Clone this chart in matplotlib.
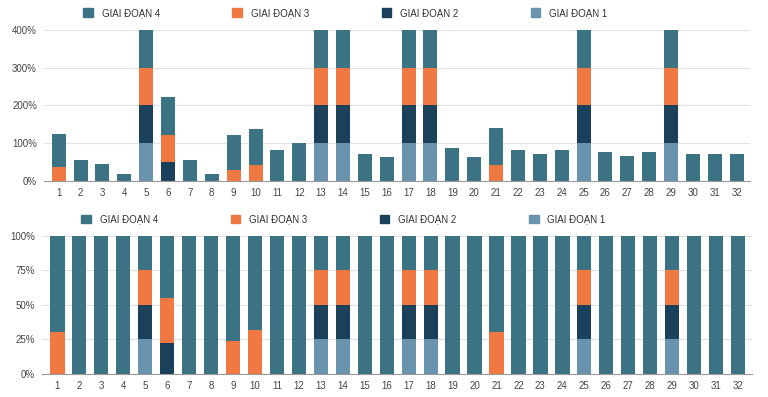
import numpy as np
import matplotlib.pyplot as plt
from matplotlib.patches import Patch

plt.rcParams['font.family'] = ['Liberation Sans', 'DejaVu Sans']

categories = [str(i) for i in range(1, 33)]
# values in percent
stage1 = [0, 0, 0, 0, 100, 0, 0, 0, 0, 0, 0, 0, 100, 100, 0, 0,
          100, 100, 0, 0, 0, 0, 0, 0, 100, 0, 0, 0, 100, 0, 0, 0]
stage2 = [0, 0, 0, 0, 100, 50, 0, 0, 0, 0, 0, 0, 100, 100, 0, 0,
          100, 100, 0, 0, 0, 0, 0, 0, 100, 0, 0, 0, 100, 0, 0, 0]
stage3 = [38, 0, 0, 0, 100, 72, 0, 0, 29, 43, 0, 0, 100, 100, 0, 0,
          100, 100, 0, 0, 43, 0, 0, 0, 100, 0, 0, 0, 100, 0, 0, 0]
stage4 = [87, 55, 45, 18, 100, 101, 55, 18, 92, 94, 82, 100, 100, 100, 71, 63,
          100, 100, 87, 63, 98, 82, 71, 82, 100, 78, 67, 78, 100, 71, 71, 71]

labels = ['GIAI ĐOẠN 1', 'GIAI ĐOẠN 2', 'GIAI ĐOẠN 3', 'GIAI ĐOẠN 4']
colors = ['#6a93ae', '#1b405a', '#ef7843', '#3b7384']

series = np.array([stage1, stage2, stage3, stage4], dtype=float)
totals = series.sum(axis=0)
shares = series / totals * 100

x = np.arange(1, len(categories) + 1)

fig = plt.figure(figsize=(7.68, 3.97), dpi=100)
ax1 = fig.add_axes([0.0573, 0.5441, 0.9193, 0.3804])
ax2 = fig.add_axes([0.0547, 0.0587, 0.9240, 0.3469])


def draw(ax, data, ymax, ticks, width, leg_y):
    bottom = np.zeros(len(x))
    for vals, col in zip(data, colors):
        ax.bar(x, vals, width, bottom=bottom, color=col, zorder=3)
        bottom += vals
    ax.set_ylim(0, ymax)
    ax.set_yticks(ticks)
    ax.set_yticklabels([f'{t}%' for t in ticks])
    ax.set_xticks(x)
    ax.set_xticklabels(categories)
    ax.grid(axis='y', color='#e2e2e2', linewidth=0.8, zorder=0)
    for s in ['top', 'right', 'left']:
        ax.spines[s].set_visible(False)
    ax.spines['bottom'].set_color('#9a9a9a')
    ax.spines['bottom'].set_zorder(4)
    ax.tick_params(axis='both', length=0, labelsize=7, colors='#444444', pad=5)
    handles = [Patch(color=c) for c in colors][::-1]
    ax.legend(handles, labels[::-1], ncol=4, loc='lower left',
              bbox_to_anchor=(0.05, leg_y), frameon=False, fontsize=7,
              handlelength=1.0, handleheight=1.0, handletextpad=0.9,
              columnspacing=7.45, borderaxespad=0)
    for t in ax.get_legend().get_texts():
        t.set_color('#333333')


draw(ax1, series, 400, [0, 100, 200, 300, 400], 0.64, 1.055)
ax1.set_xlim(0.33, 32.61)
draw(ax2, shares, 100, [0, 25, 50, 75, 100], 0.65, 1.056)
ax2.set_xlim(0.30, 32.62)

fig.savefig('out.png', dpi=100)
